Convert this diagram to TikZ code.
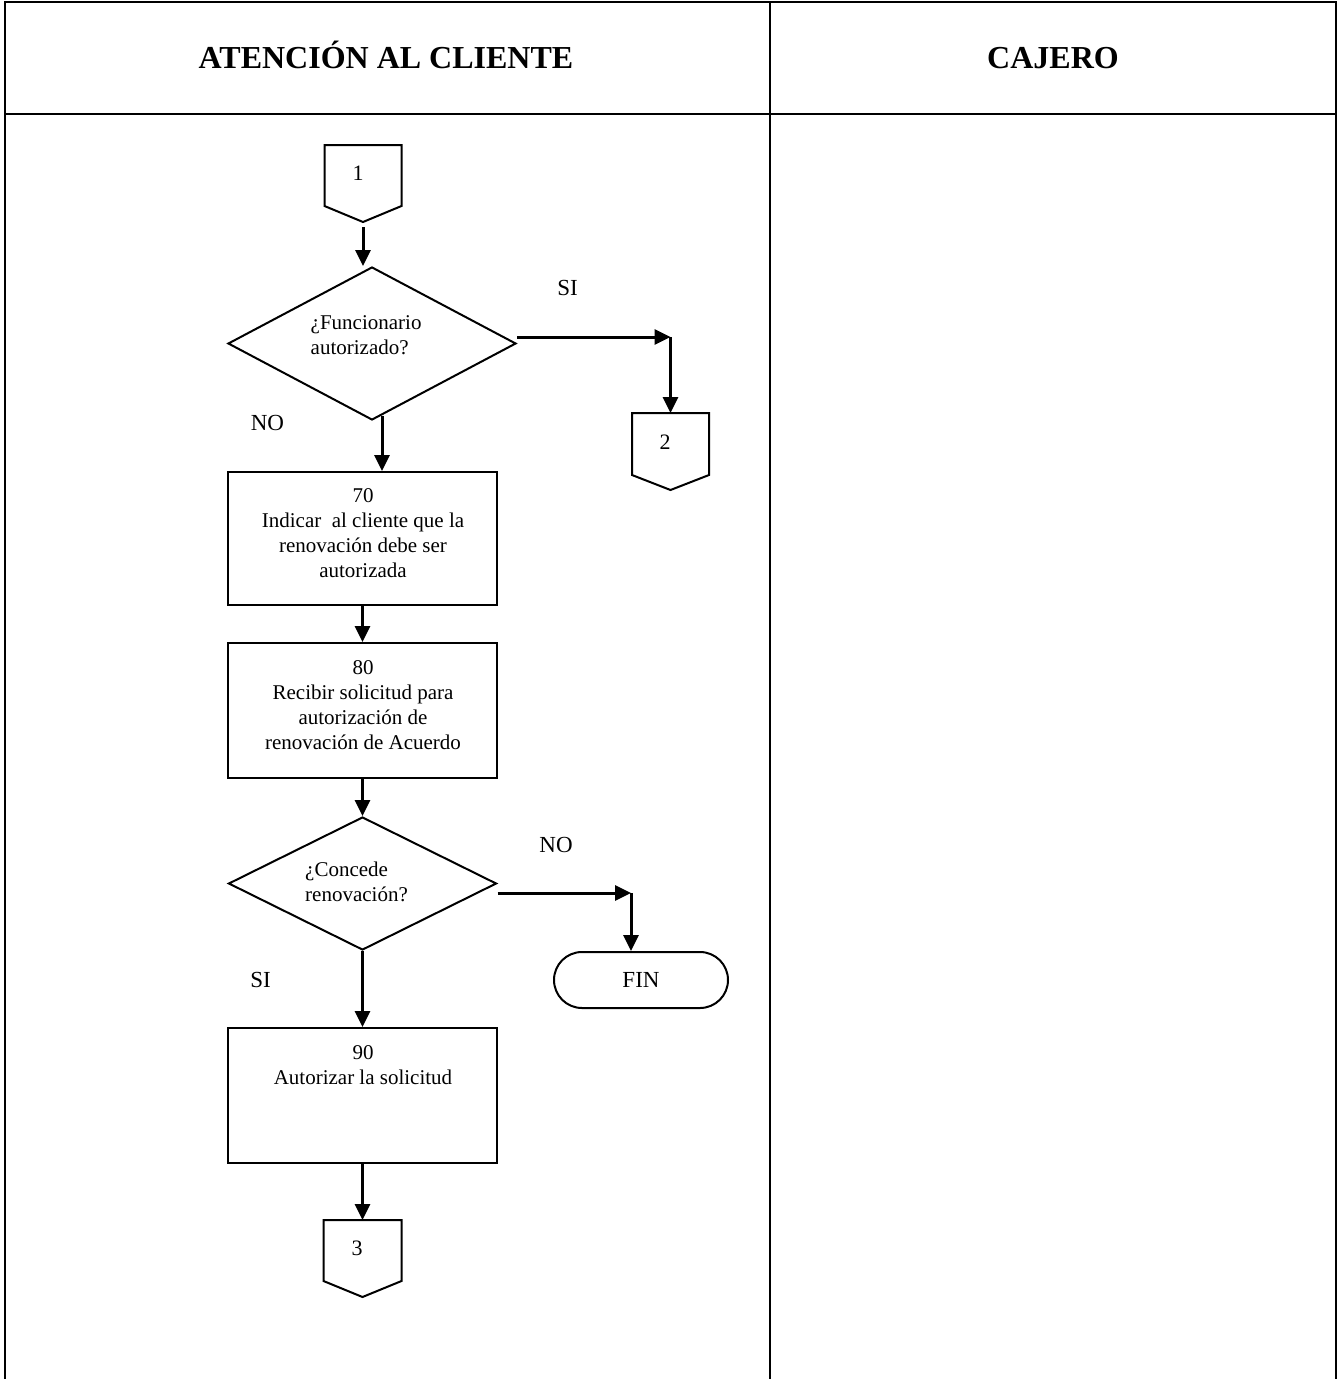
\documentclass[tikz,border=0pt]{standalone}
\usepackage{fontspec}
\setmainfont{Liberation Serif}
\usetikzlibrary{arrows.meta,shapes.geometric}
\begin{document}
\begin{tikzpicture}[x=1pt,y=-1pt,
  flow/.style={line width=3pt,-{Triangle[length=16pt,width=15pt]}},
  shp/.style={draw,line width=2pt,inner sep=0pt},
  conn/.style={line width=2pt,line join=miter},
  grid/.style={line width=2.2pt},
  txt/.style={font=\fontsize{21}{25}\selectfont,align=center,inner sep=0pt},
  dtxt/.style={font=\fontsize{21}{25}\selectfont,align=left,inner sep=0pt},
  lbl/.style={font=\fontsize{23}{26}\selectfont,inner sep=0pt},
  num/.style={font=\fontsize{22}{26}\selectfont,inner sep=0pt},
  head/.style={font=\fontsize{32}{36}\selectfont\bfseries,inner sep=0pt}]
\useasboundingbox (0,0) rectangle (1342,1379);
% table
\draw[grid] (5,1379) -- (5,2) -- (1336,2) -- (1336,1379);
\draw[grid] (5,114) -- (1336,114);
\draw[grid] (770,2) -- (770,1379);
\node[head,anchor=base] (h1) at (386,68) {ATENCIÓN AL CLIENTE};
\node[head,anchor=base] (h2) at (1053,68) {CAJERO};

% off-page connector 1
\coordinate (c1top) at (363,145);
\coordinate (c1tip) at (363,222);
\draw[conn] (324.5,145) -- (401.5,145) -- (401.5,206) -- (c1tip) -- (324.5,206) -- cycle;
\node[num] (n1) at (358,173) {1};

% decision 1
\node[shp,diamond,minimum width=288pt,minimum height=153pt] (d1) at (372,343.5) {};
\node[dtxt,anchor=north west] (d1t) at (310.5,315) {¿Funcionario\\autorizado?};

% off-page connector 2
\coordinate (c2top) at (670.5,413);
\draw[conn] (632,413) -- (709,413) -- (709,475) -- (670.5,490) -- (632,475) -- cycle;
\node[num] (n2) at (665,442) {2};

% process boxes
\node[shp,minimum width=269pt,minimum height=133pt] (b70) at (362.5,538.5) {};
\node[txt,anchor=north] (t70) at (363,488) {70\\Indicar\ \ al cliente que la\\renovación debe ser\\autorizada};
\node[shp,minimum width=269pt,minimum height=135pt] (b80) at (362.5,710.5) {};
\node[txt,anchor=north] (t80) at (363,660) {80\\Recibir solicitud para\\autorización de\\renovación de Acuerdo};

% decision 2
\node[shp,diamond,minimum width=268pt,minimum height=133pt] (d2) at (362.5,883.5) {};
\node[dtxt,anchor=north west] (d2t) at (305,862) {¿Concede\\renovación?};

% end
\node[shp,rounded corners=28pt,minimum width=174pt,minimum height=56pt,font=\fontsize{23}{26}\selectfont] (fin) at (641,980) {FIN};

\node[shp,minimum width=269pt,minimum height=135pt] (b90) at (362.5,1095.5) {};
\node[txt,anchor=north] (t90) at (363,1045) {90\\Autorizar la solicitud};

% off-page connector 3
\coordinate (c3top) at (362.5,1220);
\draw[conn] (323.5,1220) -- (401.5,1220) -- (401.5,1281) -- (362.5,1297) -- (323.5,1281) -- cycle;
\node[num] (n3) at (357,1248) {3};

% labels
\node[lbl] (si1) at (567.5,288) {SI};
\node[lbl] (no1) at (267.5,423) {NO};
\node[lbl] (no2) at (556,845) {NO};
\node[lbl] (si2) at (260.5,980) {SI};

% connectors
\draw[flow] (c1tip) ++(0,5) coordinate (a1) -- (a1 |- d1.north);
\coordinate (k1) at (670.5,337);
\draw[flow] ([yshift=6.5pt]d1.east) -- (k1);
\draw[flow] (k1) -- (c2top);
\draw[flow] ([xshift=10pt,yshift=5.5pt]d1.south) coordinate (s1) -- (s1 |- b70.north);
\draw[flow] (b70.south) -- (b80.north);
\draw[flow] (b80.south) -- (d2.north);
\coordinate (k2) at (631,893);
\draw[flow] ([yshift=-9.5pt]d2.east) -- (k2);
\draw[flow] (k2) -- (k2 |- fin.north);
\draw[flow] (d2.south) -- (b90.north);
\draw[flow] (b90.south) -- (c3top);
\end{tikzpicture}
\end{document}
